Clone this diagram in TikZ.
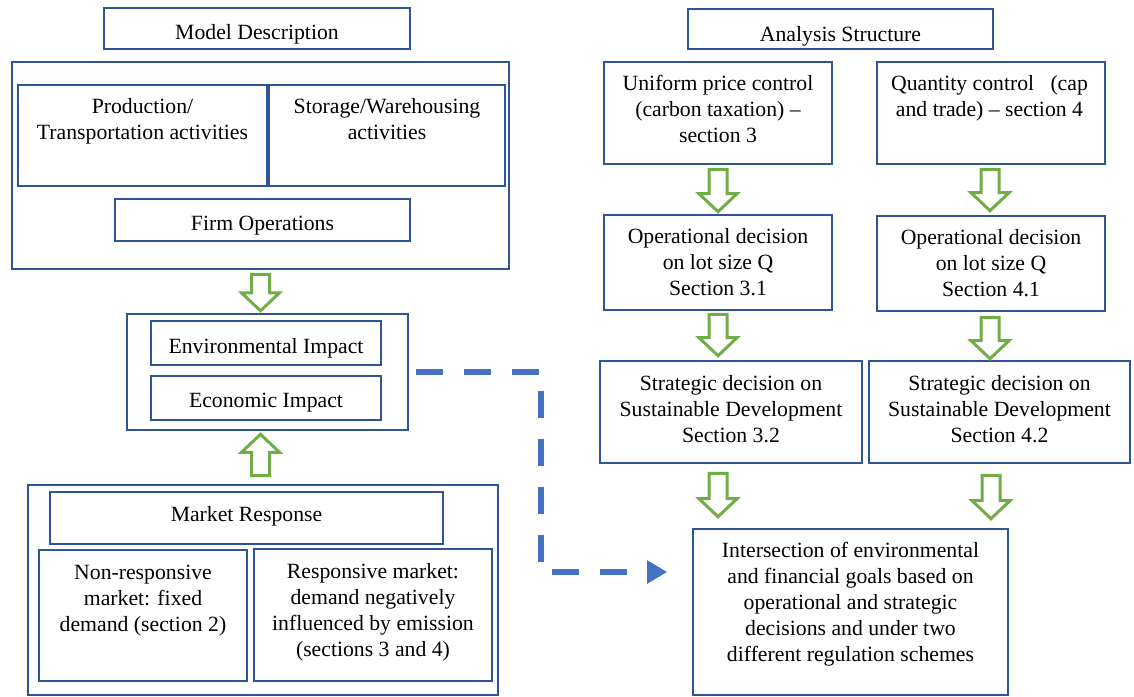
\documentclass[tikz,border=0pt]{standalone}
\usepackage{fontspec}
\setmainfont{Liberation Serif}
\usetikzlibrary{fit,arrows.meta,calc}
\definecolor{boxblue}{HTML}{2F5597}
\definecolor{dashblue}{HTML}{4472C4}
\definecolor{grn}{HTML}{70AD47}
\begin{document}
\begin{tikzpicture}[x=0.75pt,y=-0.75pt,
 box/.style={draw=boxblue,line width=1.2pt,inner sep=0pt},
 lbl/.style={inner sep=0pt,anchor=north,align=center,font=\fontsize{16.3}{19.5}\selectfont,execute at begin node=\strut},
 garrowline/.style={draw=grn,line width=2.25pt,line join=miter},
 blockarrow/.pic={\draw[garrowline] (-9,0) -- (9,0) -- (9,#1-18) -- (19,#1-18) -- (0,#1) -- (-19,#1-18) -- (-9,#1-18) -- cycle;},
 dashconn/.style={draw=dashblue,line width=4.5pt,dash pattern=on 20.25pt off 15.75pt,-{Triangle[length=15pt,width=16.5pt]}}
]
\useasboundingbox (0,0) rectangle (1134,696);

% ---------- left: model description ----------
\node[box,fit={(104,8)(410,49)}] (md) {};
\node[lbl] (mdt) at (257,21.3) {Model Description};
\node[box,fit={(12,62)(509,269)}] (mdo) {};
\node[box,fit={(18,85)(267,186)}] (prod) {};
\node[lbl] (prodt) at (142.5,98.5) {Production/\\Transportation activities};
\node[box,fit={(269,85)(505,186)}] (stor) {};
\node[lbl] (stort) at (387,98.5) {Storage/Warehousing\\activities};
\node[box,fit={(115,199)(410,241)}] (firm) {};
\node[lbl] (firmt) at (262.5,212.3) {Firm Operations};

% ---------- impacts ----------
\node[box,fit={(127,314)(408,430)}] (impo) {};
\node[box,fit={(151,321)(381,365)}] (env) {};
\node[lbl] (envt) at (266,335.3) {Environmental Impact};
\node[box,fit={(151,376)(381,420)}] (eco) {};
\node[lbl] (ecot) at (266,389.3) {Economic Impact};

% ---------- market response ----------
\node[box,fit={(28,485)(498,695)}] (mro) {};
\node[box,fit={(50,492)(443,544)}] (mr) {};
\node[lbl] (mrt) at (246.5,503) {Market Response};
\node[box,fit={(39,550)(247,681)}] (nonr) {};
\node[lbl] (nonrt) at (143,565) {Non-responsive\\market: fixed\\demand (section 2)};
\node[box,fit={(254,549)(492,681)}] (resp) {};
\node[lbl] (respt) at (373,563.5) {Responsive market:\\demand negatively\\influenced by emission\\(sections 3 and 4)};

% ---------- right: analysis structure ----------
\node[box,fit={(688,9)(993,49)}] (as) {};
\node[lbl] (ast) at (840.5,23.3) {Analysis Structure};
\node[box,fit={(604,62)(832,164)}] (unif) {};
\node[lbl] (uniftx) at (718,75) {Uniform price control\\(carbon taxation) –\\section 3};
\node[box,fit={(877,62)(1105,164)}] (quan) {};
\node[lbl] (quantx) at (989.5,75) {Quantity control\ \ \ (cap\\and trade) – section 4};
\node[box,fit={(604,215)(832,310)}] (op31) {};
\node[lbl] (op31t) at (718,228) {Operational decision\\on lot size Q\\Section 3.1};
\node[box,fit={(877,216)(1105,311)}] (op41) {};
\node[lbl] (op41t) at (991,229) {Operational decision\\on lot size Q\\Section 4.1};
\node[box,fit={(600,361)(862,463)}] (st32) {};
\node[lbl] (st32t) at (731,375) {Strategic decision on\\Sustainable Development\\Section 3.2};
\node[box,fit={(869,361)(1130,463)}] (st42) {};
\node[lbl] (st42t) at (999.5,375) {Strategic decision on\\Sustainable Development\\Section 4.2};
\node[box,fit={(693,529)(1008,695)}] (inter) {};
\node[lbl] (intert) at (850.5,542) {Intersection of environmental\\and financial goals based on\\operational and strategic\\decisions and under two\\different regulation schemes};

% ---------- block arrows ----------
\pic (a1) at ($(mdo.south)+(0,4.5)$) {blockarrow=36.5};
\pic[rotate=180] (a2) at ($(mdo.south |- mro.north)+(0,-8.5)$) {blockarrow=41.4};
\pic (r1) at ($(unif.south)+(0,4.5)$) {blockarrow=42.4};
\pic (r2) at ($(op31.south)+(0,3.5)$) {blockarrow=41.4};
\pic (r3) at ($(op31.south |- st32.south)+(0,9.5)$) {blockarrow=43.4};
\pic (q1) at ($(quan.south)+(-1,4.5)$) {blockarrow=41.4};
\pic (q2) at ($(op41.south)+(-1,5.5)$) {blockarrow=41.4};
\pic (q3) at ($(op41.south |- st42.south)+(0,11.5)$) {blockarrow=43.4};

% ---------- dashed connector ----------
\coordinate (dbot) at (541,572);
\coordinate (dstart) at ($(impo.east)+(7,0)$);
\coordinate (dend) at ($(inter.west |- dbot)+(-25,0)$);
\draw[dashconn] (dstart) -| (dbot) -- (dend);
\end{tikzpicture}
\end{document}
